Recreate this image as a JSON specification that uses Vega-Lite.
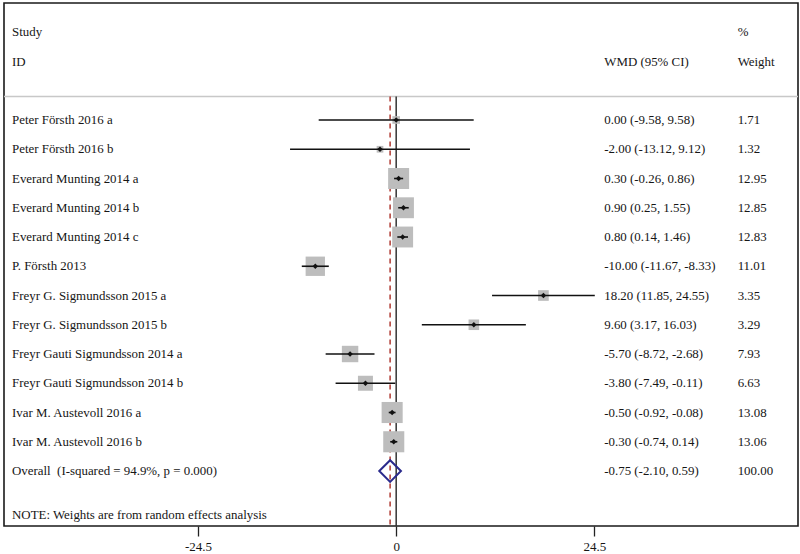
{
  "$schema": "https://vega.github.io/schema/vega-lite/v6.json",
  "width": 794,
  "height": 523,
  "padding": {"left": 3, "top": 3, "right": 3, "bottom": 3},
  "background": "white",
  "config": {
    "view": {"stroke": "#1a1a1a", "strokeWidth": 1.6},
    "text": {"font": "Liberation Serif", "fontSize": 12.9, "color": "#161616"}
  },
  "datasets": {
    "studies": [
      {"study": "Peter Försth 2016 a", "row": 0, "est": 0.0, "lo": -9.58, "hi": 9.58, "w": 1.71, "ci": "0.00 (-9.58, 9.58)", "wt": "1.71"},
      {"study": "Peter Försth 2016 b", "row": 1, "est": -2.0, "lo": -13.12, "hi": 9.12, "w": 1.32, "ci": "-2.00 (-13.12, 9.12)", "wt": "1.32"},
      {"study": "Everard Munting 2014 a", "row": 2, "est": 0.3, "lo": -0.26, "hi": 0.86, "w": 12.95, "ci": "0.30 (-0.26, 0.86)", "wt": "12.95"},
      {"study": "Everard Munting 2014 b", "row": 3, "est": 0.9, "lo": 0.25, "hi": 1.55, "w": 12.85, "ci": "0.90 (0.25, 1.55)", "wt": "12.85"},
      {"study": "Everard Munting 2014 c", "row": 4, "est": 0.8, "lo": 0.14, "hi": 1.46, "w": 12.83, "ci": "0.80 (0.14, 1.46)", "wt": "12.83"},
      {"study": "P. Försth 2013", "row": 5, "est": -10.0, "lo": -11.67, "hi": -8.33, "w": 11.01, "ci": "-10.00 (-11.67, -8.33)", "wt": "11.01"},
      {"study": "Freyr G. Sigmundsson 2015 a", "row": 6, "est": 18.2, "lo": 11.85, "hi": 24.55, "w": 3.35, "ci": "18.20 (11.85, 24.55)", "wt": "3.35"},
      {"study": "Freyr G. Sigmundsson 2015 b", "row": 7, "est": 9.6, "lo": 3.17, "hi": 16.03, "w": 3.29, "ci": "9.60 (3.17, 16.03)", "wt": "3.29"},
      {"study": "Freyr Gauti Sigmundsson 2014 a", "row": 8, "est": -5.7, "lo": -8.72, "hi": -2.68, "w": 7.93, "ci": "-5.70 (-8.72, -2.68)", "wt": "7.93"},
      {"study": "Freyr Gauti Sigmundsson 2014 b", "row": 9, "est": -3.8, "lo": -7.49, "hi": -0.11, "w": 6.63, "ci": "-3.80 (-7.49, -0.11)", "wt": "6.63"},
      {"study": "Ivar M. Austevoll 2016 a", "row": 10, "est": -0.5, "lo": -0.92, "hi": -0.08, "w": 13.08, "ci": "-0.50 (-0.92, -0.08)", "wt": "13.08"},
      {"study": "Ivar M. Austevoll 2016 b", "row": 11, "est": -0.3, "lo": -0.74, "hi": 0.14, "w": 13.06, "ci": "-0.30 (-0.74, 0.14)", "wt": "13.06"},
      {"study": "Overall \u00a0(I-squared = 94.9%, p = 0.000)", "row": 12, "est": -0.75, "lo": -2.10, "hi": 0.59, "w": 100, "ci": "-0.75 (-2.10, 0.59)", "wt": "100.00", "overall": true}
    ]
  },
  "data": {"name": "studies"},
  "layer": [
    {
      "mark": {"type": "rule", "color": "#c8c8c8", "strokeWidth": 1.5},
      "encoding": {
        "x": {"datum": 0, "type": "quantitative", "scale": {"domain": [-48.48, 49.67], "nice": false, "zero": false},
          "axis": {"values": [-24.5, 0, 24.5], "title": null, "grid": false, "domain": false, "tickSize": 10, "tickColor": "#222222", "tickWidth": 1.3, "labelFont": "Liberation Serif", "labelFontSize": 13, "labelColor": "#161616", "labelPadding": 4, "labelExpr": "replace(format(datum.value, '.1~f'), '\u2212', '-')"}},
        "x2": {"datum": 0},
        "y": {"datum": -0.8, "type": "quantitative", "scale": {"domain": [-4.0, 13.88], "reverse": true, "nice": false, "zero": false}, "axis": null}
      },
      "transform": [{"filter": "datum.row === 0"}]
    },
    {
      "mark": {"type": "rule", "color": "#c8c8c8", "strokeWidth": 1.5},
      "transform": [{"filter": "datum.row === 0"}],
      "encoding": {
        "y": {"datum": -0.8, "type": "quantitative", "scale": {"domain": [-4.0, 13.88], "reverse": true, "nice": false, "zero": false}, "axis": null}
      }
    },
    {
      "mark": {"type": "rule", "color": "#333333", "strokeWidth": 1.5},
      "transform": [{"filter": "datum.row === 0"}],
      "encoding": {
        "x": {"datum": 0, "type": "quantitative", "scale": {"domain": [-48.48, 49.67], "nice": false, "zero": false}},
        "y": {"datum": -0.8, "type": "quantitative", "scale": {"domain": [-4.0, 13.88], "reverse": true, "nice": false, "zero": false}, "axis": null},
        "y2": {"datum": 13.88}
      }
    },
    {
      "mark": {"type": "rule", "color": "#b5473f", "strokeWidth": 1.6, "strokeDash": [5, 4]},
      "transform": [{"filter": "datum.overall === true"}],
      "encoding": {
        "x": {"field": "est", "type": "quantitative", "scale": {"domain": [-48.48, 49.67], "nice": false, "zero": false}},
        "y": {"datum": -0.8, "type": "quantitative", "scale": {"domain": [-4.0, 13.88], "reverse": true, "nice": false, "zero": false}, "axis": null},
        "y2": {"datum": 13.88}
      }
    },
    {
      "mark": {"type": "point", "shape": "square", "filled": true, "color": "#bdbdbd", "opacity": 1},
      "transform": [{"filter": "datum.overall !== true"}],
      "encoding": {
        "x": {"field": "est", "type": "quantitative", "scale": {"domain": [-48.48, 49.67], "nice": false, "zero": false}},
        "y": {"field": "row", "type": "quantitative", "scale": {"domain": [-4.0, 13.88], "reverse": true, "nice": false, "zero": false}, "axis": null},
        "size": {"field": "w", "type": "quantitative", "scale": {"type": "linear", "domain": [0, 100], "range": [0, 3400], "zero": true}, "legend": null}
      }
    },
    {
      "mark": {"type": "rule", "color": "#111111", "strokeWidth": 1.6},
      "transform": [{"filter": "datum.overall !== true"}],
      "encoding": {
        "x": {"field": "lo", "type": "quantitative", "scale": {"domain": [-48.48, 49.67], "nice": false, "zero": false}},
        "x2": {"field": "hi"},
        "y": {"field": "row", "type": "quantitative", "scale": {"domain": [-4.0, 13.88], "reverse": true, "nice": false, "zero": false}, "axis": null}
      }
    },
    {
      "mark": {"type": "point", "shape": "diamond", "filled": true, "color": "#111111", "size": 30, "opacity": 1},
      "transform": [{"filter": "datum.overall !== true"}],
      "encoding": {
        "x": {"field": "est", "type": "quantitative", "scale": {"domain": [-48.48, 49.67], "nice": false, "zero": false}},
        "y": {"field": "row", "type": "quantitative", "scale": {"domain": [-4.0, 13.88], "reverse": true, "nice": false, "zero": false}, "axis": null}
      }
    },
    {
      "mark": {"type": "point", "shape": "diamond", "filled": false, "color": "#2a2a8c", "strokeWidth": 2, "size": 470, "opacity": 1},
      "transform": [{"filter": "datum.overall === true"}],
      "encoding": {
        "x": {"field": "est", "type": "quantitative", "scale": {"domain": [-48.48, 49.67], "nice": false, "zero": false}},
        "y": {"field": "row", "type": "quantitative", "scale": {"domain": [-4.0, 13.88], "reverse": true, "nice": false, "zero": false}, "axis": null}
      }
    },
    {
      "mark": {"type": "text", "align": "left", "baseline": "middle"},
      "encoding": {
        "x": {"datum": -47.49, "type": "quantitative", "scale": {"domain": [-48.48, 49.67], "nice": false, "zero": false}},
        "y": {"field": "row", "type": "quantitative", "scale": {"domain": [-4.0, 13.88], "reverse": true, "nice": false, "zero": false}, "axis": null},
        "text": {"field": "study"}
      }
    },
    {
      "mark": {"type": "text", "align": "left", "baseline": "middle"},
      "encoding": {
        "x": {"datum": 25.72, "type": "quantitative", "scale": {"domain": [-48.48, 49.67], "nice": false, "zero": false}},
        "y": {"field": "row", "type": "quantitative", "scale": {"domain": [-4.0, 13.88], "reverse": true, "nice": false, "zero": false}, "axis": null},
        "text": {"field": "ci"}
      }
    },
    {
      "mark": {"type": "text", "align": "left", "baseline": "middle"},
      "encoding": {
        "x": {"datum": 42.21, "type": "quantitative", "scale": {"domain": [-48.48, 49.67], "nice": false, "zero": false}},
        "y": {"field": "row", "type": "quantitative", "scale": {"domain": [-4.0, 13.88], "reverse": true, "nice": false, "zero": false}, "axis": null},
        "text": {"field": "wt"}
      }
    },
    {
      "mark": {"type": "text", "align": "left", "baseline": "middle"},
      "transform": [{"filter": "datum.row === 0"}],
      "encoding": {
        "x": {"datum": -47.49, "type": "quantitative", "scale": {"domain": [-48.48, 49.67], "nice": false, "zero": false}},
        "y": {"datum": -3, "type": "quantitative", "scale": {"domain": [-4.0, 13.88], "reverse": true, "nice": false, "zero": false}, "axis": null},
        "text": {"value": "Study"}
      }
    },
    {
      "mark": {"type": "text", "align": "left", "baseline": "middle"},
      "transform": [{"filter": "datum.row === 0"}],
      "encoding": {
        "x": {"datum": -47.49, "type": "quantitative", "scale": {"domain": [-48.48, 49.67], "nice": false, "zero": false}},
        "y": {"datum": -2, "type": "quantitative", "scale": {"domain": [-4.0, 13.88], "reverse": true, "nice": false, "zero": false}, "axis": null},
        "text": {"value": "ID"}
      }
    },
    {
      "mark": {"type": "text", "align": "left", "baseline": "middle"},
      "transform": [{"filter": "datum.row === 0"}],
      "encoding": {
        "x": {"datum": 25.72, "type": "quantitative", "scale": {"domain": [-48.48, 49.67], "nice": false, "zero": false}},
        "y": {"datum": -2, "type": "quantitative", "scale": {"domain": [-4.0, 13.88], "reverse": true, "nice": false, "zero": false}, "axis": null},
        "text": {"value": "WMD (95% CI)"}
      }
    },
    {
      "mark": {"type": "text", "align": "left", "baseline": "middle"},
      "transform": [{"filter": "datum.row === 0"}],
      "encoding": {
        "x": {"datum": 42.21, "type": "quantitative", "scale": {"domain": [-48.48, 49.67], "nice": false, "zero": false}},
        "y": {"datum": -3, "type": "quantitative", "scale": {"domain": [-4.0, 13.88], "reverse": true, "nice": false, "zero": false}, "axis": null},
        "text": {"value": "%"}
      }
    },
    {
      "mark": {"type": "text", "align": "left", "baseline": "middle"},
      "transform": [{"filter": "datum.row === 0"}],
      "encoding": {
        "x": {"datum": 42.21, "type": "quantitative", "scale": {"domain": [-48.48, 49.67], "nice": false, "zero": false}},
        "y": {"datum": -2, "type": "quantitative", "scale": {"domain": [-4.0, 13.88], "reverse": true, "nice": false, "zero": false}, "axis": null},
        "text": {"value": "Weight"}
      }
    },
    {
      "mark": {"type": "text", "align": "left", "baseline": "middle"},
      "transform": [{"filter": "datum.row === 0"}],
      "encoding": {
        "x": {"datum": -47.49, "type": "quantitative", "scale": {"domain": [-48.48, 49.67], "nice": false, "zero": false}},
        "y": {"datum": 13.5, "type": "quantitative", "scale": {"domain": [-4.0, 13.88], "reverse": true, "nice": false, "zero": false}, "axis": null},
        "text": {"value": "NOTE: Weights are from random effects analysis"}
      }
    }
  ]
}
